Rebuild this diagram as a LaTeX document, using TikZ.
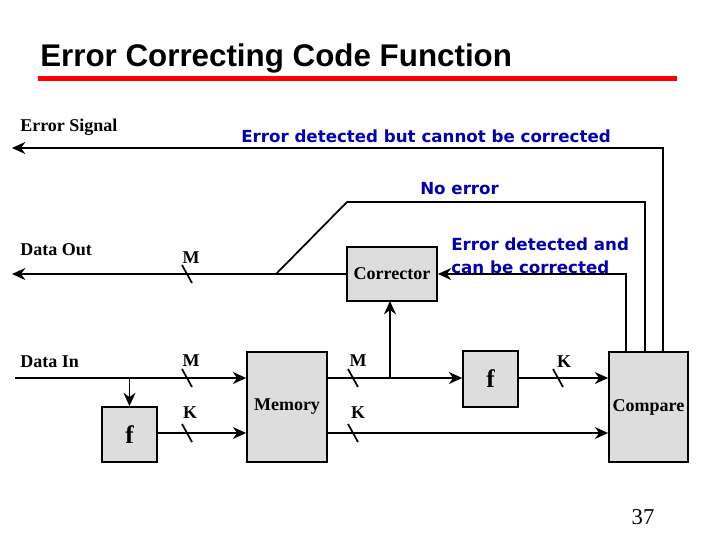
\documentclass[tikz,border=0pt]{standalone}
\usepackage{fontspec}
\setmainfont{Liberation Serif}
\newfontfamily\ttlfont{Liberation Sans}
\newfontfamily\notefont{DejaVu Sans}
\usetikzlibrary{arrows.meta}
\definecolor{boxgray}{RGB}{221,221,221}
\definecolor{notblue}{RGB}{0,0,176}
\tikzset{
  blk/.style={draw, line width=1.3pt, fill=boxgray, inner sep=0pt, font=\bfseries\fontsize{13.5}{15}\selectfont},
  wire/.style={line width=1.3pt},
  sig/.style={wire, -{Stealth[length=10pt,width=9pt]}},
  lbl/.style={inner sep=0pt, font=\bfseries\fontsize{13.5}{15}\selectfont},
  note/.style={inner sep=0pt, text=notblue, font=\notefont\bfseries\fontsize{12.5}{17.25}\selectfont, align=left}
}
\newcommand{\bustick}[2]{\draw[wire] (#1-5,#2-9) -- (#1+5,#2+9);}
\begin{document}
\begin{tikzpicture}[x=0.75pt,y=0.75pt,yscale=-1,xscale=1]
\useasboundingbox (0,0) rectangle (720,540);

% title and rule
\node (title) [anchor=base west, inner sep=0pt, font=\ttlfont\bfseries\fontsize{23.5}{26}\selectfont] at (40,66) {Error Correcting Code Function};
\draw [red, line width=3.75pt] (38,78) -- (677,78);

% blocks
\node (mem) [blk, minimum width=60pt, minimum height=82.5pt] at (287,407) {Memory};
\node (fin) [blk, minimum width=41.25pt, minimum height=41.25pt, font=\bfseries\fontsize{19}{20}\selectfont] at (129.5,434.5) {f};
\node (fout) [blk, minimum width=41.25pt, minimum height=42pt, font=\bfseries\fontsize{19}{20}\selectfont] at (490.5,379) {f};
\node (corr) [blk, minimum width=67.5pt, minimum height=40.5pt] at (392,274) {Corrector};
\node (cmp) [blk, minimum width=59.25pt, minimum height=82.5pt] at (648.5,407) {Compare};

% wire ends
\coordinate (din) at (15,378);
\coordinate (rowK) at (0,433);
\coordinate (dout) at (12,274);
\coordinate (esig) at (12,148);
\coordinate (ok1) at (347,202);
\coordinate (ok2) at (276,274);
\coordinate (c1) at (626,352);
\coordinate (c2) at (645,352);
\coordinate (c3) at (663,352);

% data path
\draw [sig] (din) -- (din -| mem.west);
\draw [sig] (fin.north |- din) -- (fin.north);
\draw [sig] (fin.east |- rowK) -- (mem.west |- rowK);
\draw [sig] (mem.east |- din) -- (fout.west |- din);
\draw [sig] (390,378) -- (390,301);
\draw [sig] (fout.east |- din) -- (cmp.west |- din);
\draw [sig] (mem.east |- rowK) -- (cmp.west |- rowK);
\draw [sig] (corr.west) -- (dout);

% compare outputs
\draw [sig] (c1) |- (corr.east);
\draw [wire] (c2) |- (ok1) -- (ok2);
\draw [sig] (c3) |- (esig);

% bus widths
\bustick{187}{274}
\bustick{187}{378}
\bustick{187}{433}
\bustick{353}{378}
\bustick{353}{433}
\bustick{558}{378}
\node (mOut) [lbl] at (191,258) {M};
\node (mIn) [lbl] at (191,361) {M};
\node (kIn) [lbl] at (190,413) {K};
\node (mMem) [lbl] at (358,361) {M};
\node (kMem) [lbl] at (358,413) {K};
\node (kF) [lbl] at (564,362) {K};

% signal names
\node (lErr) [lbl, anchor=west] at (20,127) {Error Signal};
\node (lOut) [lbl, anchor=west] at (20,250) {Data Out};
\node (lIn) [lbl, anchor=west] at (20,362) {Data In};

% notes
\node (nBad) [note, anchor=west] at (241,136) {Error detected but cannot be corrected};
\node (nOk) [note, anchor=west] at (420,189) {No error};
\node (nFix) [note, anchor=west] at (451,255.5) {Error detected and\\can be corrected};

% page number
\node (page) [inner sep=0pt, font=\fontsize{17}{20}\selectfont] at (643,517) {37};
\end{tikzpicture}
\end{document}
